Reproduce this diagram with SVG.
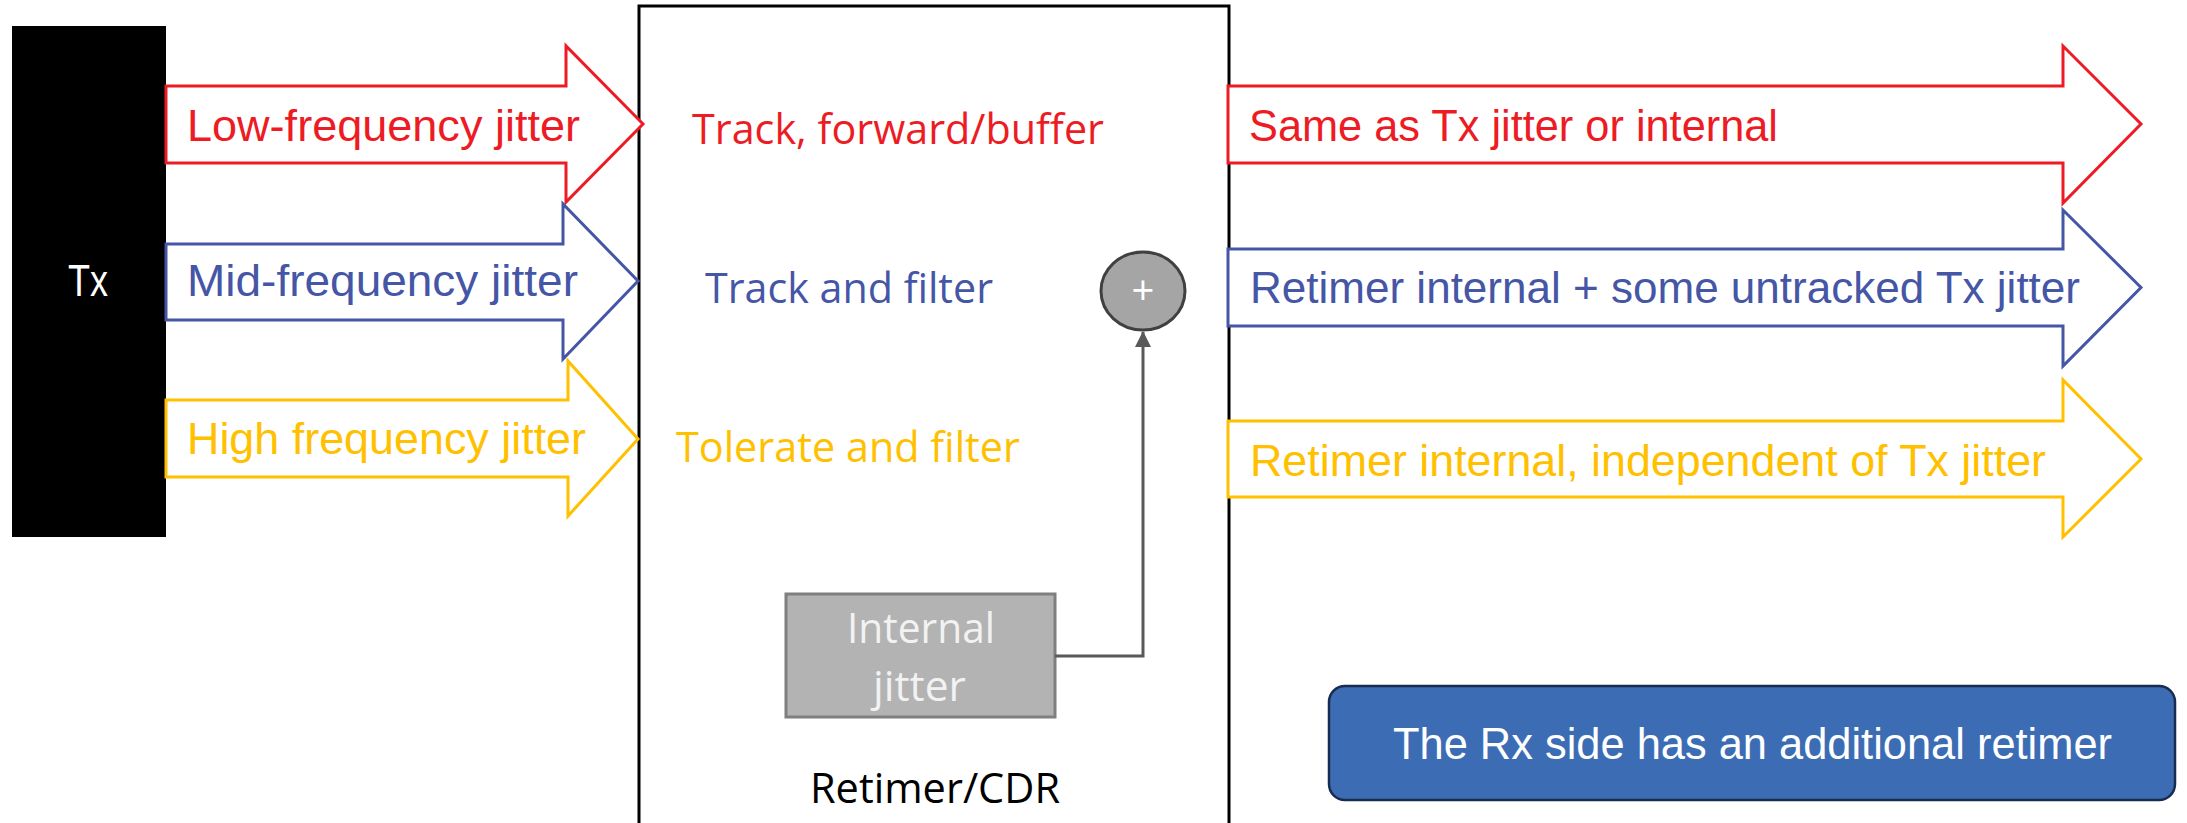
<svg xmlns="http://www.w3.org/2000/svg" width="2187" height="823" viewBox="0 0 2187 823">
<style>
.cal{font-family:"Liberation Sans",Arial,sans-serif;font-size:43.5px}
.seg{font-family:"Open Sans","Liberation Sans",sans-serif;font-size:42px}
.red{fill:#ED1C24}.blue{fill:#4656A6}.gold{fill:#FFC000}
.arr{fill:#fff;stroke-width:3}
.ar{stroke:#ED1C24}.ab{stroke:#4656A6}.ag{stroke:#FFC000}
</style>
<defs>
<marker id="ah" markerWidth="16" markerHeight="16" refX="15" refY="8" orient="auto" markerUnits="userSpaceOnUse" viewBox="0 0 16 16">
<path d="M0,0 L16,8 L0,16 z" fill="#595959"/>
</marker>
</defs>
<rect width="2187" height="823" fill="#fff"/>
<g id="retimer">
<rect x="639" y="6" width="590" height="830" fill="#fff" stroke="#000" stroke-width="3"/>
<text class="seg" x="810" y="803" fill="#000" textLength="250" lengthAdjust="spacingAndGlyphs">Retimer/CDR</text>
<text class="seg red" x="692" y="144" textLength="412" lengthAdjust="spacingAndGlyphs">Track, forward/buffer</text>
<text class="seg blue" x="705" y="303" textLength="288" lengthAdjust="spacingAndGlyphs">Track and filter</text>
<text class="seg gold" x="676" y="462" textLength="344" lengthAdjust="spacingAndGlyphs">Tolerate and filter</text>
</g>
<g id="tx">
<rect x="12" y="26" width="154" height="511" fill="#000"/>
<text class="cal" x="68" y="296" fill="#fff" textLength="40" lengthAdjust="spacingAndGlyphs">Tx</text>
</g>
<g id="in-low">
<polygon class="arr ar" points="166,86 566,86 566,46 643,124 566,202 566,163 166,163"/>
<text class="cal red" x="187" y="141" textLength="393" lengthAdjust="spacingAndGlyphs">Low-frequency jitter</text>
</g>
<g id="in-mid">
<polygon class="arr ab" points="166,244 563,244 563,204 638,281 563,359 563,320 166,320"/>
<text class="cal blue" x="187" y="296" textLength="391" lengthAdjust="spacingAndGlyphs">Mid-frequency jitter</text>
</g>
<g id="in-high">
<polygon class="arr ag" points="166,400 568,400 568,361 638,439 568,516 568,477 166,477"/>
<text class="cal gold" x="187" y="454" textLength="399" lengthAdjust="spacingAndGlyphs">High frequency jitter</text>
</g>
<g id="out-low">
<polygon class="arr ar" points="1228,86 2063,86 2063,46 2141,124 2063,203 2063,163 1228,163"/>
<text class="cal red" x="1249" y="141" textLength="529" lengthAdjust="spacingAndGlyphs">Same as Tx jitter or internal</text>
</g>
<g id="out-mid">
<polygon class="arr ab" points="1228,249 2063,249 2063,210 2141,287.5 2063,366 2063,326 1228,326"/>
<text class="cal blue" x="1250" y="303" textLength="830" lengthAdjust="spacingAndGlyphs">Retimer internal + some untracked Tx jitter</text>
</g>
<g id="out-high">
<polygon class="arr ag" points="1228,421 2063,421 2063,380 2141,459 2063,537 2063,497 1228,497"/>
<text class="cal gold" x="1250" y="476" textLength="796" lengthAdjust="spacingAndGlyphs">Retimer internal, independent of Tx jitter</text>
</g>
<g id="internal-jitter">
<rect x="786" y="594" width="269" height="123" fill="#B3B3B3" stroke="#7F7F7F" stroke-width="3"/>
<text class="seg" x="847" y="643" fill="#F2F2F2" textLength="148" lengthAdjust="spacingAndGlyphs">Internal</text>
<text class="seg" x="873" y="701" fill="#F2F2F2" textLength="93" lengthAdjust="spacingAndGlyphs">jitter</text>
</g>
<g id="sum">
<ellipse cx="1143" cy="291" rx="42" ry="39" fill="#A5A5A5" stroke="#404040" stroke-width="3"/>
<text x="1143" y="305" text-anchor="middle" font-family="Open Sans, sans-serif" font-size="40" fill="#fff">+</text>
</g>
<g id="connectors">
<path d="M1055,656 H1143 V332" fill="none" stroke="#595959" stroke-width="3" marker-end="url(#ah)"/>
</g>
<g id="note">
<rect x="1329" y="686" width="846" height="114" rx="16" ry="16" fill="#3C6DB4" stroke="#172C51" stroke-width="2.5"/>
<text class="cal" x="1393" y="759" fill="#fff" textLength="719" lengthAdjust="spacingAndGlyphs">The Rx side has an additional retimer</text>
</g>
</svg>
